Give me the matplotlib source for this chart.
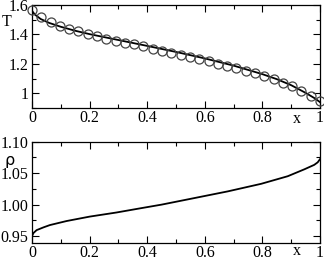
import matplotlib
matplotlib.use("Agg")
import matplotlib.pyplot as plt
from matplotlib.ticker import MultipleLocator, FixedLocator

# Top panel: circles (simulation) and line (theory)
x_circ = [i / 31 for i in range(32)]
T_circ = [1.566, 1.517, 1.485, 1.460, 1.439, 1.420, 1.403, 1.387, 1.372, 1.358,
          1.345, 1.332, 1.318, 1.303, 1.289, 1.276, 1.262, 1.247, 1.232, 1.217,
          1.202, 1.186, 1.170, 1.153, 1.136, 1.117, 1.096, 1.073, 1.047, 1.017,
          0.983, 0.945]
x_Tline = [0, 0.01, 0.03, 0.06, 0.1, 0.15, 0.2, 0.3, 0.4, 0.5, 0.6, 0.7, 0.8,
           0.85, 0.9, 0.95, 0.98, 1.0]
T_line = [1.56, 1.535, 1.505, 1.478, 1.452, 1.425, 1.402, 1.362, 1.322, 1.281,
          1.237, 1.188, 1.130, 1.096, 1.055, 1.003, 0.968, 0.94]

# Bottom panel: density
x_rho = [0, 0.005, 0.016, 0.04, 0.062, 0.12, 0.2, 0.293, 0.374, 0.45, 0.565,
         0.68, 0.796, 0.888, 0.946, 0.98, 0.992, 1.0]
rho = [0.950, 0.955, 0.9596, 0.964, 0.9676, 0.974, 0.981, 0.9875, 0.994, 1.0,
       1.0105, 1.021, 1.033, 1.045, 1.056, 1.063, 1.067, 1.072]

x_ticks = [0, 0.2, 0.4, 0.6, 0.8, 1]
x_ticklabels = ["0", "0.2", "0.4", "0.6", "0.8", "1"]
T_ticks = [1, 1.2, 1.4, 1.6]
T_ticklabels = ["1", "1.2", "1.4", "1.6"]
rho_ticks = [0.95, 1.00, 1.05, 1.10]
rho_ticklabels = ["0.95", "1.00", "1.05", "1.10"]

plt.rcParams['font.family'] = ['Liberation Serif', 'DejaVu Serif']
FS = 11.5

fig = plt.figure(figsize=(3.24, 2.60), dpi=100)
ax1 = fig.add_axes([32/324, 1 - 108/260, 288/324, 103/260])
ax2 = fig.add_axes([32/324, 1 - 242.5/260, 288/324, 101/260])

ax1.plot(x_Tline, T_line, color='black', lw=1.3, zorder=2)
ax1.plot(x_circ, T_circ, linestyle='none', marker='o', ms=6.5, mfc='none',
         mec='#444444', mew=0.9, zorder=3, clip_on=False)
ax1.set_xlim(0, 1)
ax1.set_ylim(0.9, 1.6)
ax1.yaxis.set_major_locator(FixedLocator(T_ticks))
ax1.set_yticklabels(T_ticklabels)
ax1.yaxis.set_minor_locator(MultipleLocator(0.1))

ax2.plot(x_rho, rho, color='black', lw=1.3)
ax2.set_xlim(0, 1)
ax2.set_ylim(0.94, 1.10)
ax2.yaxis.set_major_locator(FixedLocator(rho_ticks))
ax2.set_yticklabels(rho_ticklabels)
ax2.yaxis.set_minor_locator(MultipleLocator(0.025))

for ax in (ax1, ax2):
    ax.xaxis.set_major_locator(FixedLocator(x_ticks))
    ax.set_xticklabels(x_ticklabels)
    ax.xaxis.set_minor_locator(MultipleLocator(0.1))
    ax.tick_params(which='both', direction='in', top=True, right=True,
                   labelsize=FS, width=0.8)
    ax.tick_params(axis='x', which='both', pad=1.5)
    ax.tick_params(axis='y', which='both', pad=2.5)
    ax.tick_params(which='major', length=5)
    ax.tick_params(which='minor', length=3)
    for s in ax.spines.values():
        s.set_linewidth(0.9)

fig.text(7/324, 1 - 22/260, "T", fontsize=FS, ha='center', va='center')
fig.text(10/324, 1 - 161/260, "ρ", fontsize=FS, ha='center', va='center',
         family=['DejaVu Sans'])
fig.text(297/324, 1 - 119/260, "x", fontsize=FS, ha='center', va='center')
fig.text(297/324, 1 - 251/260, "x", fontsize=FS, ha='center', va='center')

fig.savefig("out.png", dpi=100)
